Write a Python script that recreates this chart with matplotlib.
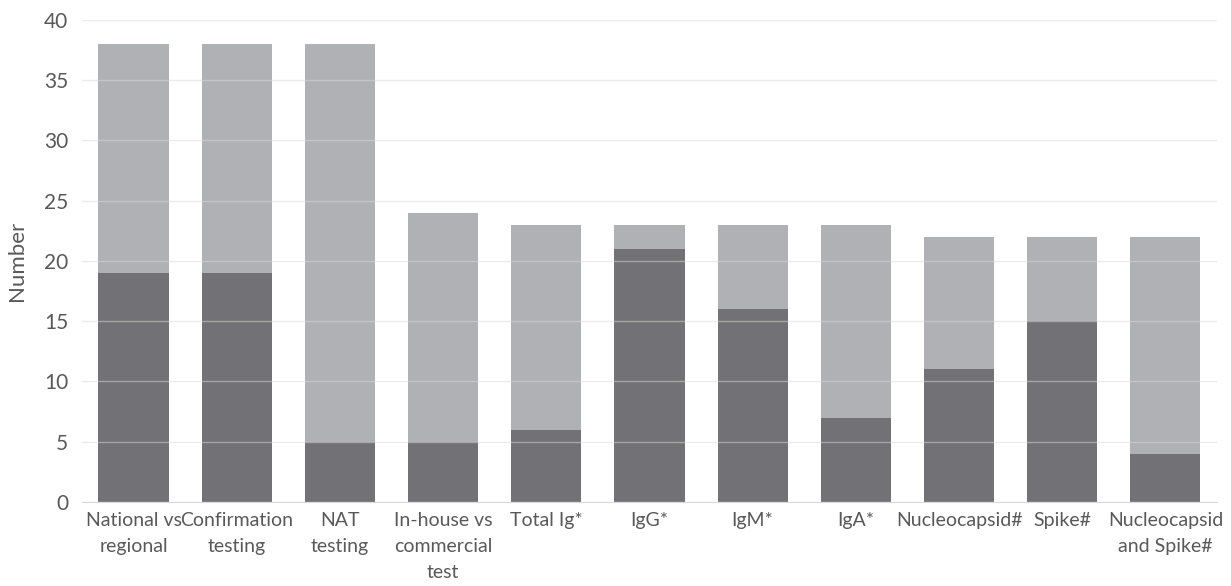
import matplotlib
matplotlib.use("Agg")
import matplotlib.pyplot as plt
import numpy as np

categories = [
    "National vs\nregional", "Confirmation\ntesting", "NAT\ntesting",
    "In-house vs\ncommercial\ntest", "Total Ig*", "IgG*", "IgM*", "IgA*",
    "Nucleocapsid#", "Spike#", "Nucleocapsid\nand Spike#",
]
dark_values = [19, 19, 5, 5, 6, 21, 16, 7, 11, 15, 4]
light_values = [19, 19, 33, 19, 17, 2, 7, 16, 11, 7, 18]

plt.rcParams["font.family"] = ["Lato", "DejaVu Sans"]
text_color = "#595959"

fig = plt.figure(figsize=(12.31, 5.86), dpi=100)
ax = fig.add_axes([0.0666, 0.1433, 0.922, 0.823])

x = np.arange(len(categories))
ax.bar(x, dark_values, width=0.68, color="#727276", zorder=2)
ax.bar(x, light_values, width=0.68, bottom=dark_values, color="#b0b1b5", zorder=2)

ax.set_xlim(-0.5, len(categories) - 0.5)
ax.set_ylim(0, 40)
ax.set_yticks(range(0, 41, 5))
ax.yaxis.grid(True, color="#d9d9d9", linewidth=1, alpha=0.5, zorder=3)
ax.set_axisbelow(False)
ax.tick_params(axis="y", length=0, labelsize=15, labelcolor=text_color, pad=10)
ax.tick_params(axis="x", length=0, labelsize=14, labelcolor=text_color, pad=7)
ax.set_xticks(x)
ax.set_xticklabels(categories, linespacing=1.65)
for side in ["top", "right", "left"]:
    ax.spines[side].set_visible(False)
ax.spines["bottom"].set_color("#d9d9d9")
ax.spines["bottom"].set_zorder(4)
ax.set_ylabel("Number", fontsize=16, color=text_color, labelpad=12)

fig.savefig("out.png", dpi=100)
